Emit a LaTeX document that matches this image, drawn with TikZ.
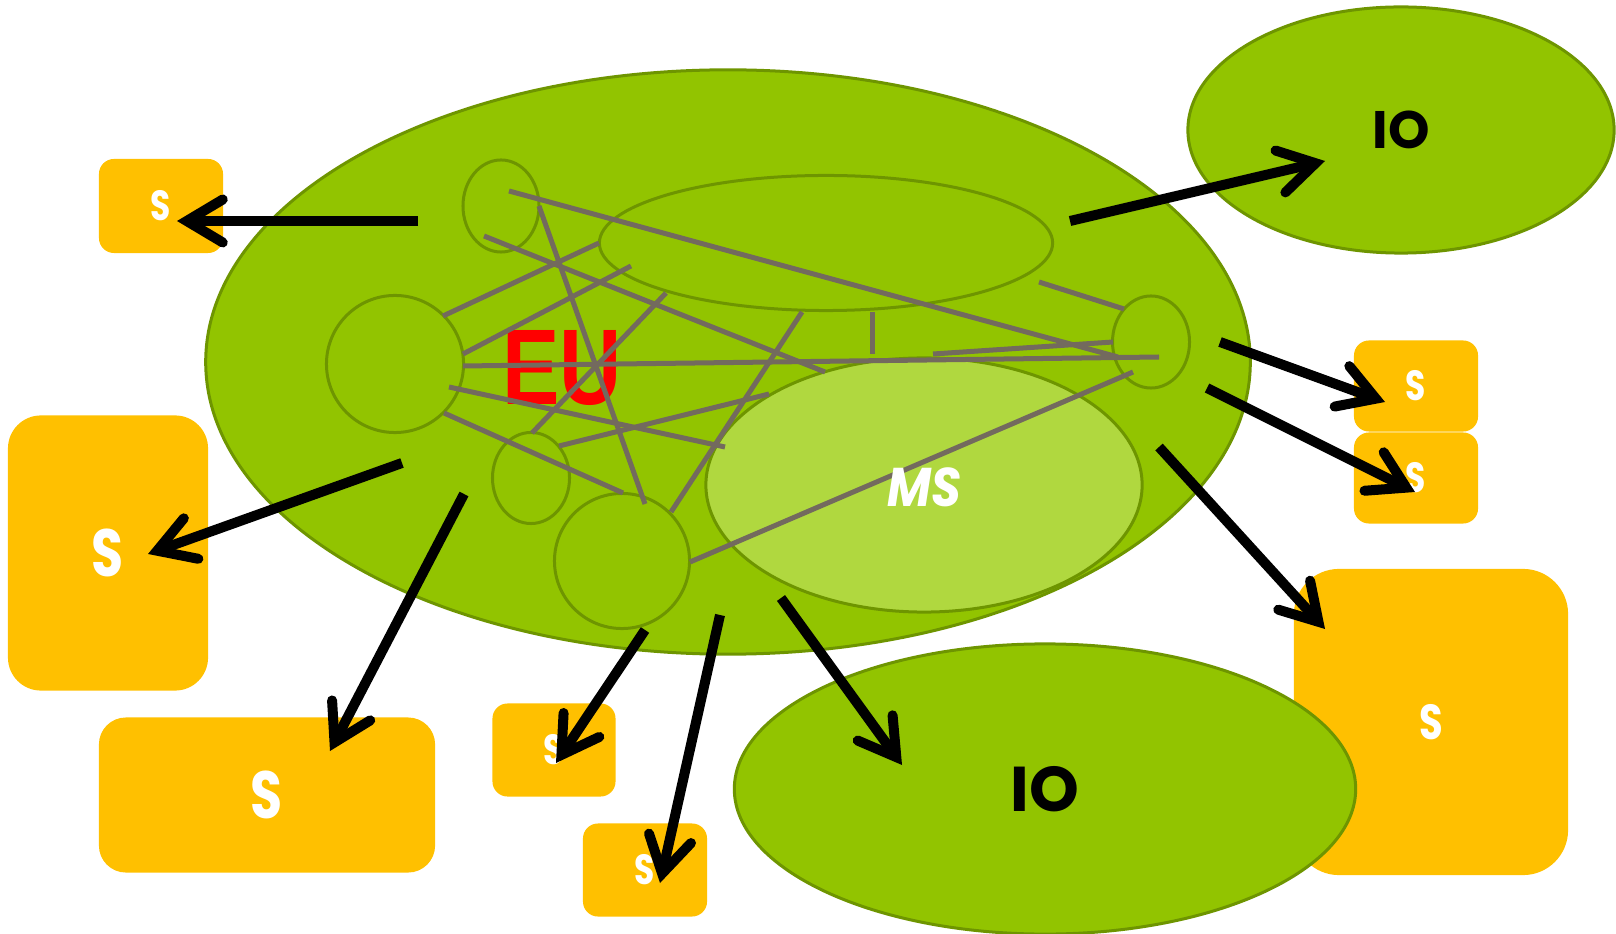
\documentclass[tikz,border=0pt]{standalone}
\usepackage{graphicx}
\usepackage{fontspec}
\setmainfont{Poppins}
\newfontfamily\eufont{Liberation Sans}
\usetikzlibrary{shapes.geometric,arrows.meta}

\definecolor{eugreen}{HTML}{92C400}
\definecolor{euedge}{HTML}{6E9500}
\definecolor{msgreen}{HTML}{B0D83F}
\definecolor{syellow}{HTML}{FFC000}
\definecolor{tie}{HTML}{736A5E}

\newcommand{\stxt}{\scalebox{0.78}[1]{S}}

\tikzset{
	blob/.style={ellipse,draw=euedge,line width=0.3mm,fill=eugreen,inner sep=0pt},
	member/.style={ellipse,draw=euedge,line width=0.3mm,inner sep=0pt},
	stake/.style={fill=syellow,text=white,font=\bfseries,inner sep=0pt},
	tieline/.style={draw=tie,line width=0.5mm},
	bigarrow/.style={line width=1mm,-{Straight Barb[length=3.6mm,width=4.3mm,line join=miter,line cap=round]}}
}

\begin{document}
\begin{tikzpicture}[x=0.01cm,y=-0.01cm]
	\useasboundingbox (0,0) rectangle (1616,934);
	% stakeholder boxes
	\node[stake,minimum width=2.74cm,minimum height=3.06cm,rounded corners=4.5mm,font=\bfseries\fontsize{14}{14}\selectfont] (s8) at (1431,722) {\stxt};
	\node[stake,minimum width=1.24cm,minimum height=0.94cm,rounded corners=1.5mm,font=\bfseries\fontsize{12}{12}\selectfont] (s1) at (161,206) {\stxt};
	\node[stake,minimum width=2.00cm,minimum height=2.75cm,rounded corners=3.3mm,font=\bfseries\fontsize{19}{19}\selectfont] (s2) at (108,553) {\stxt};
	\node[stake,minimum width=3.36cm,minimum height=1.55cm,rounded corners=2.7mm,font=\bfseries\fontsize{19}{19}\selectfont] (s3) at (267,795) {\stxt};
	\node[stake,minimum width=1.23cm,minimum height=0.93cm,rounded corners=1.5mm,font=\bfseries\fontsize{12}{12}\selectfont] (s4) at (554,750) {\stxt};
	\node[stake,minimum width=1.24cm,minimum height=0.93cm,rounded corners=1.5mm,font=\bfseries\fontsize{12}{12}\selectfont] (s5) at (645,870) {\stxt};
	\node[stake,minimum width=1.24cm,minimum height=0.91cm,rounded corners=1.5mm,font=\bfseries\fontsize{12}{12}\selectfont] (s6) at (1416,386) {\stxt};
	\node[stake,minimum width=1.24cm,minimum height=0.91cm,rounded corners=1.5mm,font=\bfseries\fontsize{12}{12}\selectfont] (s7) at (1416,478) {\stxt};
	%
	% international organisations and the union
	\node[blob,minimum width=6.21cm,minimum height=2.90cm,font=\bfseries\fontsize{18}{18}\selectfont] (io2) at (1045,789) {IO};
	\node[blob,minimum width=4.26cm,minimum height=2.46cm,font=\bfseries\fontsize{15}{15}\selectfont] (io1) at (1401,130) {IO};
	\node[blob,minimum width=10.44cm,minimum height=5.84cm] (eu) at (728,362) {};
	%
	% inside the union
	\node[member,minimum width=4.53cm,minimum height=1.35cm] (ue) at (826,243) {};
	\node[member,minimum width=0.76cm,minimum height=0.92cm] (c1) at (501,206) {};
	\node[member,minimum width=1.37cm,minimum height=1.37cm] (c2) at (395,364) {};
	\node[member,minimum width=0.77cm,minimum height=0.91cm] (c3) at (531,478) {};
	\node[member,minimum width=1.35cm,minimum height=1.35cm] (c4) at (622,561) {};
	\node[member,minimum width=0.77cm,minimum height=0.92cm] (c5) at (1151,342) {};
	\node[member,fill=msgreen,minimum width=4.36cm,minimum height=2.54cm] (ms) at (924,485) {};
	\node[text=red,font=\eufont\bfseries\fontsize{30.6}{30}\selectfont] (eulbl) at (562,368) {\scalebox{0.8}[1]{EU}};
	%
		\draw[tieline] (509,191)--(1118,357);
		\draw[tieline] (484,236)--(825,372);
		\draw[tieline] (539,206)--(645,504);
		\draw[tieline] (443,316)--(599,243);
		\draw[tieline] (463,354)--(631,266);
		\draw[tieline] (463,366)--(1159,357);
		\draw[tieline] (532,433)--(666,293);
		\draw[tieline] (449,387)--(725,447);
		\draw[tieline] (444,413)--(623,493);
		\draw[tieline] (559,446)--(769,394);
		\draw[tieline] (671,512)--(802,312);
		\draw[tieline] (690,562)--(1133,372);
		\draw[tieline] (872,312)--(872,354);
		\draw[tieline] (933,354)--(1113,342);
		\draw[tieline] (1039,282)--(1124,309);
	\node[text=white,font=\bfseries\itshape\fontsize{15.5}{16}\selectfont] (mslbl) at (924,487) {\scalebox{0.88}[1]{MS}};
	%
	% outgoing arrows
	\coordinate (a1) at (418,221);   \coordinate (a1e) at (177,221);
	\coordinate (a2) at (402,463);   \coordinate (a2e) at (148,554);
	\coordinate (a3) at (464,494);   \coordinate (a3e) at (330,751);
	\coordinate (a4) at (645,630);   \coordinate (a4e) at (556,763);
	\coordinate (a5) at (720,615);   \coordinate (a5e) at (660,883);
	\coordinate (a6) at (781,598);   \coordinate (a6e) at (902,765);
	\coordinate (a7) at (1159,447);  \coordinate (a7e) at (1325,629);
	\coordinate (a8) at (1207,388);  \coordinate (a8e) at (1415,492);
	\coordinate (a9) at (1220,342);  \coordinate (a9e) at (1385,402);
	\coordinate (a10) at (1070,221); \coordinate (a10e) at (1325,161);
		\draw[bigarrow] (a1)--(a1e);
		\draw[bigarrow] (a2)--(a2e);
		\draw[bigarrow] (a3)--(a3e);
		\draw[bigarrow] (a4)--(a4e);
		\draw[bigarrow] (a5)--(a5e);
		\draw[bigarrow] (a6)--(a6e);
		\draw[bigarrow] (a7)--(a7e);
		\draw[bigarrow] (a8)--(a8e);
		\draw[bigarrow] (a9)--(a9e);
		\draw[bigarrow] (a10)--(a10e);
\end{tikzpicture}
\end{document}
